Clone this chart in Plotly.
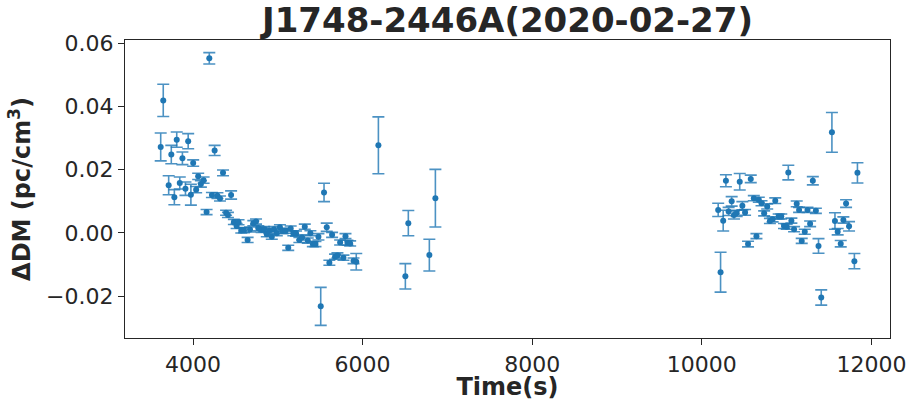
import plotly.graph_objects as go

# Observation time (s) since start of the session
time_s = [
    3619, 3649, 3713, 3744, 3780, 3808, 3844, 3875, 3911, 3943, 3975, 4002,
    4037, 4061, 4093, 4125, 4160, 4192, 4223, 4255, 4288, 4318, 4354, 4390,
    4412, 4449, 4482, 4514, 4537, 4569, 4601, 4644, 4672, 4711, 4743, 4770,
    4810, 4839, 4870, 4899, 4929, 4956, 4988, 5025, 5056, 5091, 5123, 5152,
    5183, 5215, 5254, 5286, 5318, 5353, 5384, 5413, 5444, 5479, 5506, 5545,
    5577, 5608, 5640, 5675, 5703, 5735, 5774, 5798, 5821, 5853, 5893, 5925,
    6186, 6504, 6539, 6787, 6858,
    10193, 10221, 10252, 10284, 10316, 10352, 10379, 10411, 10447, 10478,
    10510, 10545, 10577, 10613, 10644, 10672, 10704, 10735, 10771, 10803,
    10835, 10866, 10906, 10937, 10969, 11001, 11020, 11056, 11088, 11119,
    11147, 11178, 11214, 11246, 11277, 11309, 11345, 11376, 11408, 11534,
    11570, 11602, 11638, 11669, 11701, 11736, 11799, 11835,
]

# DM offset (pc/cm^3)
delta_dm = [
    0.0272, 0.0419, 0.0151, 0.0248, 0.0113, 0.0295, 0.0158, 0.0236, 0.0140, 0.0290, 0.0121, 0.0221,
    0.0137, 0.0179, 0.0155, 0.0167, 0.0066, 0.0552, 0.0120, 0.0261, 0.0118, 0.0109, 0.0190, 0.0064,
    0.0057, 0.0120, 0.0035, 0.0022, 0.0034, 0.0008, 0.0009, -0.0022, 0.0011, 0.0031, 0.0036, 0.0015,
    0.0010, 0.0012, -0.0004, 0.0007, -0.0012, 0.0012, -0.0001, 0.0018, 0.0006, 0.0007, -0.0047, 0.0014,
    -0.0001, -0.0002, -0.0022, -0.0014, 0.0020, -0.0024, -0.0001, -0.0035, -0.0035, -0.0012, -0.0232, 0.0128,
    0.0018, -0.0094, -0.0006, -0.0075, -0.0071, -0.0030, -0.0078, -0.0010, -0.0031, -0.0033, -0.0088, -0.0091,
    0.0277, -0.0137, 0.0031, -0.0070, 0.0110,
    0.0073, -0.0124, 0.0039, 0.0165, 0.0068, 0.0100, 0.0057, 0.0062, 0.0162, 0.0086,
    0.0065, -0.0035, 0.0171, 0.0110, -0.0010, 0.0105, 0.0094, 0.0062, 0.0084, 0.0038,
    0.0043, 0.0102, 0.0052, 0.0052, 0.0022, 0.0020, 0.0191, 0.0039, 0.0012, 0.0092,
    0.0073, -0.0025, 0.0004, 0.0073, 0.0029, 0.0165, 0.0070, -0.0041, -0.0204, 0.0318,
    0.0038, 0.0004, -0.0034, 0.0041, 0.0093, 0.0021, -0.0089, 0.0190,
]

# 1-sigma uncertainty of the DM offset
delta_dm_err = [
    0.0044, 0.0051, 0.0030, 0.0029, 0.0024, 0.0024, 0.0019, 0.0020, 0.0021, 0.0024, 0.0033, 0.0010,
    0.0010, 0.0010, 0.0010, 0.0010, 0.0008, 0.0018, 0.0008, 0.0016, 0.0009, 0.0008, 0.0009, 0.0008,
    0.0008, 0.0013, 0.0008, 0.0008, 0.0008, 0.0008, 0.0008, 0.0008, 0.0008, 0.0008, 0.0008, 0.0008,
    0.0008, 0.0008, 0.0008, 0.0008, 0.0008, 0.0008, 0.0008, 0.0008, 0.0008, 0.0008, 0.0008, 0.0008,
    0.0008, 0.0008, 0.0008, 0.0008, 0.0008, 0.0008, 0.0008, 0.0008, 0.0008, 0.0010, 0.0060, 0.0029,
    0.0013, 0.0008, 0.0008, 0.0008, 0.0008, 0.0008, 0.0008, 0.0008, 0.0008, 0.0008, 0.0009, 0.0026,
    0.0090, 0.0040, 0.0040, 0.0050, 0.0091,
    0.0021, 0.0063, 0.0033, 0.0019, 0.0013, 0.0015, 0.0013, 0.0010, 0.0026, 0.0013,
    0.0009, 0.0009, 0.0012, 0.0008, 0.0008, 0.0008, 0.0008, 0.0008, 0.0008, 0.0008,
    0.0008, 0.0009, 0.0008, 0.0008, 0.0008, 0.0008, 0.0023, 0.0008, 0.0008, 0.0009,
    0.0008, 0.0008, 0.0008, 0.0008, 0.0009, 0.0013, 0.0008, 0.0023, 0.0024, 0.0063,
    0.0026, 0.0010, 0.0010, 0.0010, 0.0012, 0.0015, 0.0024, 0.0032,
]

x_ticks = [4000, 6000, 8000, 10000, 12000]
y_ticks = [-0.02, 0.00, 0.02, 0.04, 0.06]

assert len(time_s) == len(delta_dm) == len(delta_dm_err)

BLUE = "#1f77b4"
INK = "#262626"
FONT = "DejaVu Sans"

fig = go.Figure(
    go.Scatter(
        x=time_s,
        y=delta_dm,
        mode="markers",
        marker=dict(color=BLUE, size=6),
        error_y=dict(
            type="data",
            array=delta_dm_err,
            visible=True,
            color="rgba(31,119,180,0.8)",
            thickness=1.6,
            width=6,
        ),
        showlegend=False,
    )
)

axis_common = dict(
    showline=True,
    mirror=True,
    linecolor=INK,
    linewidth=1.3,
    ticks="outside",
    ticklen=6,
    tickwidth=1.2,
    tickcolor=INK,
    showgrid=False,
    zeroline=False,
    automargin=False,
    tickfont=dict(family=FONT, size=22, color=INK),
)

fig.update_layout(
    width=914,
    height=401,
    margin=dict(l=125, r=24, t=40, b=63),
    paper_bgcolor="white",
    plot_bgcolor="white",
    title=dict(
        text="<b>J1748-2446A(2020-02-27)</b>",
        font=dict(family=FONT, size=34, color=INK),
        x=0.5,
        xref="paper",
        xanchor="center",
        y=0.95,
        yref="container",
        yanchor="middle",
    ),
    xaxis=dict(
        **axis_common,
        range=[3198, 12219],
        tickvals=x_ticks,
        ticktext=[str(v) for v in x_ticks],
        title=dict(
            text="<b>Time(s)</b>",
            font=dict(family=FONT, size=24, color=INK),
            standoff=1,
        ),
    ),
    yaxis=dict(
        **axis_common,
        range=[-0.0332, 0.0610],
        tickvals=y_ticks,
        tickformat=".2f",
        title=dict(
            text="<b>ΔDM (pc/cm<sup>3</sup>)</b>",
            font=dict(family=FONT, size=24, color=INK),
            standoff=8,
        ),
    ),
)

fig.write_html("out.html")
